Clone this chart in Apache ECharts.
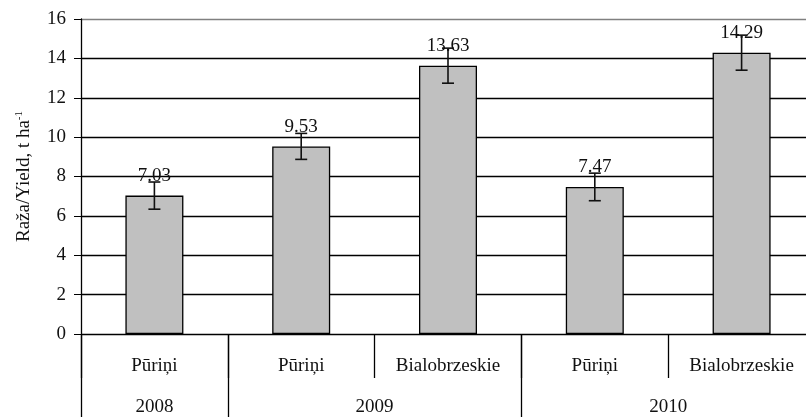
<!DOCTYPE html>
<html>
<head>
<meta charset="utf-8">
<script src="https://cdn.jsdelivr.net/npm/echarts@6/dist/echarts.min.js"></script>
<style>
  html, body { margin: 0; padding: 0; background: #fff; }
  #main { width: 806px; height: 417px; }
</style>
</head>
<body>
<div id="main"></div>
<script>
const cultivars = ['Pūriņi', 'Pūriņi', 'Bialobrzeskie', 'Pūriņi', 'Bialobrzeskie']
const yieldValues = [7.03, 9.53, 13.63, 7.47, 14.29]
const yieldErrors = [0.69, 0.66, 0.89, 0.70, 0.89]
const years = ['2008', '2009', '2010']
const yearSpans = [1, 2, 2]
const yTicks = [0, 2, 4, 6, 8, 10, 12, 14, 16]

const font = 'Liberation Serif'
const fs = 19

// boundaries and centres of the year groups on a 0..n scale
const yearBounds = [0]
const yearCenters = []
yearSpans.forEach(span => {
  const start = yearBounds[yearBounds.length - 1]
  yearCenters.push(start + span / 2)
  yearBounds.push(start + span)
})

// gridlines black, the top one grey like the plot frame
const gridColors = yTicks.map((t, i) => i === yTicks.length - 1 ? '#808080' : '#000')

const chart = echarts.init(document.getElementById('main'))

chart.setOption({
  animation: false,
  grid: { left: 81, width: 734, top: 19, bottom: 83, outerBoundsMode: 'none', containLabel: false },
  xAxis: [
    {
      type: 'category',
      data: cultivars,
      axisLine: { lineStyle: { color: '#000', width: 1 } },
      axisTick: { show: true, interval: 0, length: 44, lineStyle: { color: '#000', width: 1.3 } },
      axisLabel: { color: '#111', fontFamily: font, fontSize: fs, margin: 23, interval: 0 }
    },
    {
      type: 'value',
      min: 0,
      max: yearBounds[yearBounds.length - 1],
      position: 'bottom',
      axisLine: { show: false },
      splitLine: { show: false },
      axisTick: {
        show: true,
        length: 83,
        customValues: yearBounds,
        lineStyle: { color: '#000', width: 1.3 }
      },
      axisLabel: {
        customValues: yearCenters,
        formatter: v => years[yearCenters.indexOf(v)],
        color: '#111',
        fontFamily: font,
        fontSize: fs,
        margin: 64
      }
    }
  ],
  yAxis: {
    type: 'value',
    min: yTicks[0],
    max: yTicks[yTicks.length - 1],
    interval: 2,
    name: '{a|Raža/Yield, t ha}{b|-1}',
    nameLocation: 'middle',
    nameGap: 46,
    nameTextStyle: {
      rich: {
        a: { fontFamily: font, fontSize: fs, color: '#111' },
        b: { fontFamily: font, fontSize: 11, color: '#111', verticalAlign: 'top', padding: [0, 0, 10, 0] }
      }
    },
    axisLine: { show: true, lineStyle: { color: '#000', width: 1.3 } },
    axisTick: { show: true, length: 7, lineStyle: { color: '#000' } },
    axisLabel: { color: '#111', fontFamily: font, fontSize: fs, margin: 15 },
    splitLine: { show: true, lineStyle: { color: gridColors, width: 1.3 } }
  },
  series: [
    {
      type: 'bar',
      data: yieldValues,
      barWidth: 58,
      itemStyle: { color: '#c0c0c0', borderColor: '#000', borderWidth: 1.3 },
      label: {
        show: true,
        position: 'top',
        distance: 10,
        formatter: p => p.value.toFixed(2),
        color: '#111',
        fontFamily: font,
        fontSize: fs
      },
      z: 2
    },
    {
      type: 'custom',
      data: yieldValues.map((v, i) => [i, v - yieldErrors[i], v + yieldErrors[i]]),
      renderItem: (params, api) => {
        const lo = api.coord([api.value(0), api.value(1)])
        const hi = api.coord([api.value(0), api.value(2)])
        const half = 6
        const style = { stroke: '#111', lineWidth: 1.6 }
        return {
          type: 'group',
          children: [
            { type: 'line', shape: { x1: lo[0], y1: lo[1], x2: hi[0], y2: hi[1] }, style },
            { type: 'line', shape: { x1: lo[0] - half, y1: lo[1], x2: lo[0] + half, y2: lo[1] }, style },
            { type: 'line', shape: { x1: hi[0] - half, y1: hi[1], x2: hi[0] + half, y2: hi[1] }, style }
          ]
        }
      },
      z: 5
    }
  ]
})
</script>
</body>
</html>
